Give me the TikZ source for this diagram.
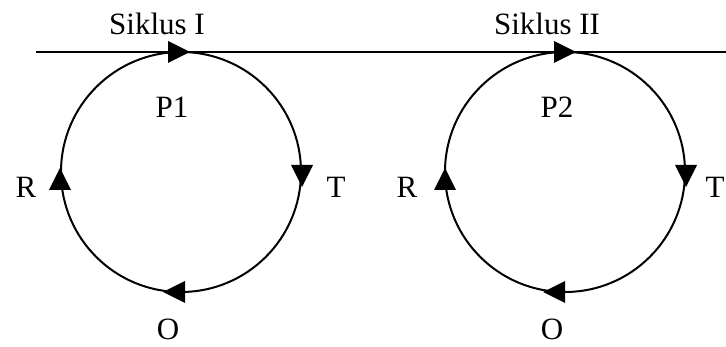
\documentclass[tikz,border=0pt]{standalone}
\usepackage{fontspec}
\setmainfont{Liberation Serif}
\begin{document}
\begin{tikzpicture}[x=1pt,y=-1pt,
  lbl/.style={anchor=base,inner sep=0pt,font=\fontsize{31}{37}\selectfont},
  cyc/.style={draw,circle,minimum size=240pt,inner sep=0pt,line width=2pt},
  tri/.style={fill=black}]
\useasboundingbox (0,0) rectangle (726,347);
\coordinate (ls) at (36,52);
\coordinate (le) at (726,52);
\draw[line width=1.8pt] (ls) -- (le);
\node[cyc] (c1) at (181,172) {};
\node[cyc] (c2) at (565,172) {};
% left cycle arrows
\fill[tri] (190,52) -- (168,41) -- (168,63) -- cycle;
\fill[tri] (302,187) -- (291,165) -- (313,165) -- cycle;
\fill[tri] (163,292) -- (185,281) -- (185,303) -- cycle;
\fill[tri] (60,168) -- (49,190) -- (71,190) -- cycle;
% right cycle arrows
\fill[tri] (576,52) -- (554,41) -- (554,63) -- cycle;
\fill[tri] (686,187) -- (675,165) -- (697,165) -- cycle;
\fill[tri] (543,292) -- (565,281) -- (565,303) -- cycle;
\fill[tri] (445,168) -- (434,190) -- (456,190) -- cycle;
% labels
\node[lbl] (s1) at (157,35) {Siklus I};
\node[lbl] (s2) at (547,35) {Siklus II};
\node[lbl] (p1) at (172,118) {P1};
\node[lbl] (p2) at (557,118) {P2};
\node[lbl] (r1) at (26,198) {R};
\node[lbl] (t1) at (336,198) {T};
\node[lbl] (o1) at (168,340) {O};
\node[lbl] (r2) at (407,198) {R};
\node[lbl] (t2) at (715,198) {T};
\node[lbl] (o2) at (552,340) {O};
\end{tikzpicture}
\end{document}
